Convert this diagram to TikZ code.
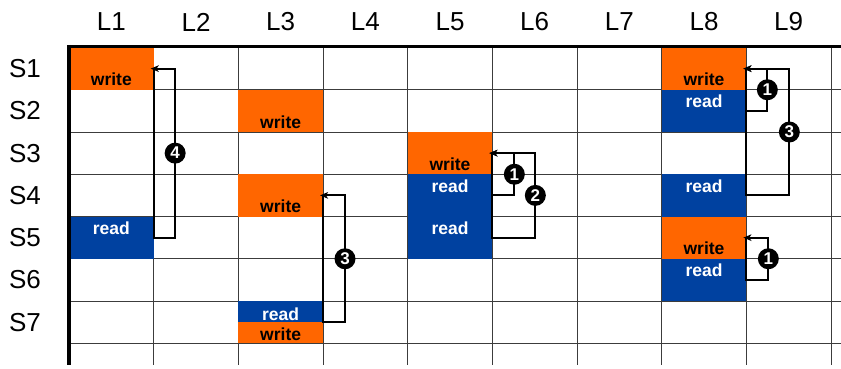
\documentclass[tikz,border=0pt]{standalone}
\usepackage{fontspec}
\setmainfont{Liberation Sans}
\usetikzlibrary{arrows.meta}
\definecolor{wcol}{RGB}{255,102,0}
\definecolor{rcol}{RGB}{0,65,160}
\definecolor{gridcol}{RGB}{60,60,60}

\begin{document}
\begin{tikzpicture}[x=1pt,y=-1pt,
  cell/.style={rectangle, minimum width=84.67pt, minimum height=42.25pt,
    inner sep=0pt, outer sep=0pt, anchor=north west},
  half/.style={cell, minimum height=21.125pt},
  wfill/.style={fill=wcol},
  rfill/.style={fill=rcol},
  wtxt/.style={anchor=base, inner sep=0pt, font=\bfseries\fontsize{17.5}{20}\selectfont, text=black},
  rtxt/.style={anchor=base, inner sep=0pt, font=\bfseries\fontsize{17.5}{20}\selectfont, text=white},
  hdr/.style={inner sep=0pt, font=\fontsize{26}{30}\selectfont},
  gridline/.style={draw=gridcol, line width=0.9pt},
  border/.style={draw=black, line width=3.5pt},
  conn/.style={draw=black, line width=2pt, line join=miter,
    -{Stealth[length=8pt,width=6.5pt,inset=2pt]}},
  badge/.style={circle, fill=black, text=white, inner sep=0pt, minimum size=21pt,
    font=\bfseries\fontsize{17}{18}\selectfont}
]
\useasboundingbox (0,0) rectangle (841,368);

% column and row headings
\foreach \i in {1,...,9}
  \node[hdr] (L\i) at ({69+84.67*(\i-0.5)},22) {L\i};
\foreach \j in {1,...,7}
  \node[hdr] (S\j) at (25,{47.5+42.25*(\j-0.5)}) {S\j};

% grid
\foreach \i in {1,...,9}
  \draw[gridline] ({69+84.67*\i},47.5) -- ({69+84.67*\i},365);
\foreach \j in {1,...,7}
  \draw[gridline] (69,{47.5+42.25*\j}) -- (841,{47.5+42.25*\j});

% accesses: column L1
\node[cell,wfill] (w1) at (69,47.5) {};
\node[cell,rfill] (r1) at (69,216.5) {};
% column L3
\node[cell,wfill] (w3a) at (238.33,89.75) {};
\node[cell,wfill] (w3b) at (238.33,174.25) {};
\node[half,rfill] (r3) at (238.33,301) {};
\node[half,wfill] (w3c) at (238.33,322.125) {};
% column L5
\node[cell,wfill] (w5) at (407.67,132) {};
\node[cell,rfill] (r5a) at (407.67,174.25) {};
\node[cell,rfill] (r5b) at (407.67,216.5) {};
% column L8
\node[cell,wfill] (w8a) at (661.67,47.5) {};
\node[cell,rfill] (r8a) at (661.67,89.75) {};
\node[cell,rfill] (r8b) at (661.67,174.25) {};
\node[cell,wfill] (w8b) at (661.67,216.5) {};
\node[cell,rfill] (r8c) at (661.67,258.75) {};

% labels inside the cells
\foreach \c in {w1,w3a,w3b,w5,w8a,w8b}
  \node[wtxt] (\c t) at ([yshift=4pt]\c.south) {write};
\foreach \c in {r1,r5a,r5b,r8a,r8b,r8c}
  \node[rtxt] (\c t) at ([yshift=-18pt]\c.north) {read};
\node[rtxt] (r3t) at ([yshift=-19pt]r3.north) {read};
\node[wtxt] (w3ct) at ([yshift=3pt]w3c.south) {write};

% outer border
\draw[border] (67,46.5) -- (841,46.5);
\draw[border] (69,44.75) -- (69,365);

% dependence connectors
\draw[conn] (w1.east) -- (r1.east) -- ++(21.5,0)
  |- node[badge,pos=0.25] (n4) {4} ([xshift=-3pt]w1.east);
\draw[conn] (w3b.east) -- (r3.south east) -- ++(22,0)
  |- node[badge,pos=0.25] (n3) {3} ([xshift=-3pt]w3b.east);
\draw[conn] (w5.east) -- (r5b.east) -- ++(43,0)
  |- node[badge,pos=0.25] (n2) {2} ([xshift=-3pt]w5.east);
\draw[conn] (r5a.east) -- ++(22,0)
  |- node[badge,pos=0.25] (n1a) {1} ([xshift=-3pt]w5.east);
\draw[conn] (w8a.east) -- (r8b.east) -- ++(43,0)
  |- node[badge,pos=0.25] (n3b) {3} ([xshift=-3pt]w8a.east);
\draw[conn] (r8a.east) -- ++(21,0)
  |- node[badge,pos=0.25] (n1b) {1} ([xshift=-3pt]w8a.east);
\draw[conn] (w8b.east) -- (r8c.east) -- ++(22,0)
  |- node[badge,pos=0.25] (n1c) {1} ([xshift=-3pt]w8b.east);
\end{tikzpicture}
\end{document}
